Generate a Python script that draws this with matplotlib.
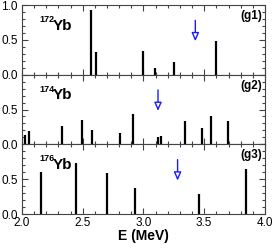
import matplotlib
matplotlib.use("Agg")
import matplotlib.pyplot as plt
from matplotlib.ticker import MultipleLocator, FormatStrFormatter, FixedLocator

plt.rcParams['font.family'] = ['Liberation Sans', 'DejaVu Sans']

e1 = [2.565, 2.606, 2.996, 3.092, 3.248, 3.600]
h1 = [0.93, 0.33, 0.34, 0.09, 0.18, 0.49]
e2 = [2.025, 2.058, 2.329, 2.494, 2.574, 2.809, 2.914, 3.117, 3.141, 3.344, 3.481, 3.558, 3.695]
h2 = [0.14, 0.19, 0.27, 0.35, 0.20, 0.16, 0.44, 0.10, 0.125, 0.33, 0.235, 0.40, 0.33]
e3 = [2.154, 2.447, 2.697, 2.933, 3.454, 3.844]
h3 = [0.61, 0.73, 0.585, 0.37, 0.28, 0.64]
arrows = [3.427, 3.12, 3.281]
isotopes = ['172', '174', '176']
tags = ['(g1)', '(g2)', '(g3)']
xticks = [2.0, 2.5, 3.0, 3.5, 4.0]

fig = plt.figure(figsize=(2.74, 2.5), dpi=100)
L, R, B, T = 0.080, 0.967, 0.144, 0.98
h = (T - B) / 3
spine_col = '#444444'
for i, (e, hh) in enumerate([(e1, h1), (e2, h2), (e3, h3)]):
    ax = fig.add_axes([L, T - (i + 1) * h, R - L, h])
    ax.vlines(e, 0, hh, color='black', lw=1.6)
    ax.set_xlim(2.0, 4.0)
    ax.set_ylim(0, 1.0)
    ax.xaxis.set_major_locator(FixedLocator(xticks))
    ax.xaxis.set_minor_locator(MultipleLocator(0.1))
    ax.xaxis.set_major_formatter(FormatStrFormatter('%.1f'))
    ax.yaxis.set_minor_locator(MultipleLocator(0.1))
    ax.tick_params(which='both', direction='in', top=True, right=True,
                   color=spine_col, labelsize=8.5)
    ax.tick_params(axis='y', pad=3)
    ax.tick_params(axis='x', pad=2)
    ax.tick_params(which='major', length=4, width=0.8)
    ax.tick_params(which='minor', length=2.5, width=0.8)
    for s in ax.spines.values():
        s.set_color(spine_col)
        s.set_linewidth(0.8)
    ax.set_yticks([0.0, 0.5, 1.0])
    if i == 0:
        ax.set_yticklabels(['0.0', '0.5', '1.0'])
    else:
        ax.set_yticklabels(['0.0', '0.5', ''])
    if i < 2:
        ax.tick_params(labelbottom=False)
    else:
        ax.set_xlabel('E (MeV)', fontsize=10, fontweight='bold', labelpad=0)
    ax.text(0.07, 0.79, isotopes[i], transform=ax.transAxes,
            fontsize=6.5, fontweight='bold', va='center', ha='left')
    ax.text(0.128, 0.645, 'Yb', transform=ax.transAxes,
            fontsize=11, fontweight='bold', va='baseline', ha='left')
    ax.text(0.987, 0.84, tags[i], transform=ax.transAxes, fontsize=8.5,
            fontweight='bold', va='center', ha='right')
    ax.annotate('', xy=(arrows[i], 0.44), xytext=(arrows[i], 0.82),
                arrowprops=dict(arrowstyle='-|>,head_length=0.5,head_width=0.22',
                                color='#1a1aff', lw=1.0, fc='white'))

fig.savefig('out.png', dpi=100)
